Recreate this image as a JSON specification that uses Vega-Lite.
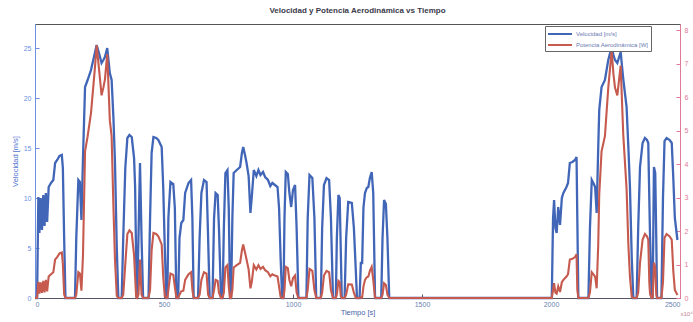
{
  "$schema": "https://vega.github.io/schema/vega-lite/v6.json",
  "width": 645,
  "height": 274,
  "autosize": {"type": "none"},
  "padding": {"left": 35, "top": 24, "right": 13, "bottom": 24},
  "background": "white",
  "title": {"text": "Velocidad y Potencia Aerodinámica vs Tiempo", "fontSize": 8, "fontWeight": "bold", "color": "#3a3a4a", "font": "Liberation Sans", "offset": 9, "anchor": "middle"},
  "data": {"values": [
    {"t":0,"v":0,"p":0},{"t":8,"v":0,"p":0},{"t":13,"v":10.1,"p":0.48},{"t":17,"v":6.5,"p":0.13},{"t":22,"v":10.0,"p":0.47},{"t":27,"v":6.8,"p":0.15},{"t":32,"v":10.3,"p":0.51},{"t":37,"v":7.2,"p":0.17},{"t":42,"v":10.5,"p":0.54},{"t":47,"v":7.6,"p":0.2},{"t":53,"v":11.1,"p":0.64},{"t":62,"v":11.5,"p":0.71},{"t":71,"v":11.8,"p":0.77},{"t":78,"v":13.5,"p":1.15},{"t":86,"v":13.8,"p":1.22},{"t":95,"v":14.2,"p":1.33},{"t":104,"v":14.3,"p":1.36},{"t":108,"v":13.0,"p":1.02},{"t":113,"v":6,"p":0.1},{"t":118,"v":0,"p":0},
    {"t":155,"v":0,"p":0},{"t":160,"v":6,"p":0.1},{"t":168,"v":11.8,"p":0.77},{"t":174,"v":11.6,"p":0.73},{"t":180,"v":7.8,"p":0.22},{"t":186,"v":14,"p":1.28},{"t":194,"v":21.1,"p":4.38},{"t":204,"v":21.8,"p":4.83},{"t":217,"v":22.8,"p":5.52},{"t":232,"v":24.5,"p":6.85},{"t":239,"v":25.3,"p":7.55},{"t":250,"v":24.3,"p":6.69},{"t":258,"v":23.5,"p":6.05},{"t":265,"v":23.8,"p":6.28},{"t":271,"v":24.1,"p":6.52},{"t":280,"v":25.0,"p":7.28},{"t":290,"v":22.5,"p":5.31},{"t":297,"v":21.8,"p":4.83},{"t":304,"v":18,"p":2.72},{"t":310,"v":13.5,"p":1.15},{"t":317,"v":5,"p":0.06},{"t":323,"v":0,"p":0},
    {"t":336,"v":0,"p":0},{"t":342,"v":6,"p":0.1},{"t":350,"v":13,"p":1.02},{"t":358,"v":16.0,"p":1.91},{"t":366,"v":16.3,"p":2.02},{"t":375,"v":16.1,"p":1.94},{"t":384,"v":14,"p":1.28},{"t":388,"v":11.1,"p":0.64},{"t":392,"v":4,"p":0.03},{"t":396,"v":0,"p":0},{"t":401,"v":6,"p":0.1},{"t":407,"v":13.5,"p":1.15},{"t":413,"v":6,"p":0.1},{"t":419,"v":0,"p":0},
    {"t":440,"v":0,"p":0},{"t":446,"v":8,"p":0.24},{"t":452,"v":14.5,"p":1.42},{"t":459,"v":16.1,"p":1.94},{"t":470,"v":16.0,"p":1.91},{"t":478,"v":15.8,"p":1.84},{"t":491,"v":15.1,"p":1.6},{"t":497,"v":11.1,"p":0.64},{"t":503,"v":5,"p":0.06},{"t":509,"v":0,"p":0},
    {"t":513,"v":0,"p":0},{"t":517,"v":8,"p":0.24},{"t":525,"v":11.6,"p":0.73},{"t":536,"v":11.4,"p":0.69},{"t":542,"v":9,"p":0.34},{"t":548,"v":0,"p":0},
    {"t":555,"v":0,"p":0},{"t":560,"v":6,"p":0.1},{"t":567,"v":7.5,"p":0.2},{"t":575,"v":7.8,"p":0.22},{"t":582,"v":10.5,"p":0.54},{"t":595,"v":11.5,"p":0.71},{"t":605,"v":11.8,"p":0.77},{"t":610,"v":8,"p":0.24},{"t":615,"v":0,"p":0},
    {"t":632,"v":0,"p":0},{"t":638,"v":6,"p":0.1},{"t":645,"v":10.5,"p":0.54},{"t":655,"v":11.8,"p":0.77},{"t":665,"v":11.6,"p":0.73},{"t":671,"v":6,"p":0.1},{"t":677,"v":0,"p":0},
    {"t":688,"v":0,"p":0},{"t":694,"v":8,"p":0.24},{"t":700,"v":10.5,"p":0.54},{"t":708,"v":10.3,"p":0.51},{"t":713,"v":7,"p":0.16},{"t":721,"v":0,"p":0},
    {"t":727,"v":0,"p":0},{"t":732,"v":7,"p":0.16},{"t":738,"v":12.5,"p":0.91},{"t":746,"v":12.8,"p":0.98},{"t":751,"v":9,"p":0.34},{"t":756,"v":0,"p":0},
    {"t":760,"v":0,"p":0},{"t":765,"v":8,"p":0.24},{"t":770,"v":12.5,"p":0.91},{"t":782,"v":12.8,"p":0.98},{"t":795,"v":13.1,"p":1.05},{"t":802,"v":14.5,"p":1.42},{"t":807,"v":15.1,"p":1.6},{"t":814,"v":14.3,"p":1.36},{"t":820,"v":13.5,"p":1.15},{"t":828,"v":12.2,"p":0.85},{"t":835,"v":8.5,"p":0.29},{"t":840,"v":10,"p":0.47},{"t":848,"v":12.8,"p":0.98},{"t":858,"v":12.2,"p":0.85},{"t":866,"v":12.8,"p":0.98},{"t":874,"v":12.3,"p":0.87},{"t":884,"v":12.6,"p":0.93},{"t":892,"v":12.1,"p":0.83},{"t":903,"v":11.8,"p":0.77},{"t":912,"v":11.2,"p":0.65},{"t":920,"v":11.5,"p":0.71},{"t":930,"v":11.3,"p":0.67},{"t":940,"v":11.1,"p":0.64},{"t":946,"v":9,"p":0.34},{"t":952,"v":4,"p":0.03},{"t":958,"v":0,"p":0},
    {"t":963,"v":0,"p":0},{"t":967,"v":8,"p":0.24},{"t":972,"v":12.6,"p":0.93},{"t":980,"v":12.4,"p":0.89},{"t":986,"v":10.5,"p":0.54},{"t":993,"v":9.1,"p":0.35},{"t":1000,"v":10.8,"p":0.59},{"t":1008,"v":11.3,"p":0.67},{"t":1014,"v":7,"p":0.16},{"t":1021,"v":0,"p":0},
    {"t":1052,"v":0,"p":0},{"t":1057,"v":8,"p":0.24},{"t":1064,"v":12.3,"p":0.87},{"t":1075,"v":12.0,"p":0.81},{"t":1083,"v":8,"p":0.24},{"t":1090,"v":0,"p":0},
    {"t":1108,"v":0,"p":0},{"t":1113,"v":7,"p":0.16},{"t":1120,"v":11.3,"p":0.67},{"t":1130,"v":12.0,"p":0.81},{"t":1140,"v":11.8,"p":0.77},{"t":1147,"v":8,"p":0.24},{"t":1155,"v":0,"p":0},
    {"t":1166,"v":0,"p":0},{"t":1170,"v":6,"p":0.1},{"t":1176,"v":10.3,"p":0.51},{"t":1181,"v":10.0,"p":0.47},{"t":1185,"v":5,"p":0.06},{"t":1189,"v":0,"p":0},
    {"t":1200,"v":0,"p":0},{"t":1206,"v":6,"p":0.1},{"t":1214,"v":9.6,"p":0.41},{"t":1228,"v":9.5,"p":0.4},{"t":1236,"v":7,"p":0.16},{"t":1243,"v":3,"p":0.01},{"t":1248,"v":0,"p":0},
    {"t":1258,"v":0,"p":0},{"t":1263,"v":3.5,"p":0.02},{"t":1268,"v":3.5,"p":0.02},{"t":1273,"v":9,"p":0.34},{"t":1279,"v":10.5,"p":0.54},{"t":1286,"v":11.0,"p":0.62},{"t":1292,"v":11.1,"p":0.64},{"t":1298,"v":12,"p":0.81},{"t":1305,"v":12.6,"p":0.93},{"t":1311,"v":10.5,"p":0.54},{"t":1318,"v":0,"p":0},
    {"t":1342,"v":0,"p":0},{"t":1347,"v":6,"p":0.1},{"t":1353,"v":9.8,"p":0.44},{"t":1360,"v":9.4,"p":0.39},{"t":1366,"v":6,"p":0.1},{"t":1373,"v":0,"p":0},
    {"t":2003,"v":0,"p":0},{"t":2008,"v":8,"p":0.24},{"t":2012,"v":9.8,"p":0.44},{"t":2017,"v":7,"p":0.16},{"t":2022,"v":6.5,"p":0.13},{"t":2028,"v":9.1,"p":0.35},{"t":2035,"v":7.3,"p":0.18},{"t":2042,"v":10,"p":0.47},{"t":2048,"v":10.5,"p":0.54},{"t":2060,"v":11.1,"p":0.64},{"t":2066,"v":11.5,"p":0.71},{"t":2073,"v":13.5,"p":1.15},{"t":2083,"v":13.6,"p":1.17},{"t":2093,"v":13.8,"p":1.22},{"t":2099,"v":14.1,"p":1.31},{"t":2102,"v":8,"p":0.24},{"t":2106,"v":0,"p":0},
    {"t":2145,"v":0,"p":0},{"t":2151,"v":7,"p":0.16},{"t":2158,"v":11.8,"p":0.77},{"t":2166,"v":11.4,"p":0.69},{"t":2171,"v":11.1,"p":0.64},{"t":2177,"v":8.5,"p":0.29},{"t":2183,"v":15,"p":1.57},{"t":2187,"v":18.8,"p":3.1},{"t":2196,"v":21.1,"p":4.38},{"t":2209,"v":21.8,"p":4.83},{"t":2222,"v":23.8,"p":6.28},{"t":2235,"v":25.1,"p":7.37},{"t":2242,"v":24.3,"p":6.69},{"t":2248,"v":23.8,"p":6.28},{"t":2257,"v":23.5,"p":6.05},{"t":2270,"v":24.6,"p":6.94},{"t":2280,"v":21.9,"p":4.89},{"t":2293,"v":19.1,"p":3.25},{"t":2300,"v":15,"p":1.57},{"t":2306,"v":11.1,"p":0.64},{"t":2313,"v":4,"p":0.03},{"t":2319,"v":0,"p":0},
    {"t":2332,"v":0,"p":0},{"t":2338,"v":7,"p":0.16},{"t":2345,"v":13.1,"p":1.05},{"t":2355,"v":15.5,"p":1.74},{"t":2364,"v":16.0,"p":1.91},{"t":2372,"v":15.8,"p":1.84},{"t":2377,"v":15.5,"p":1.74},{"t":2381,"v":10,"p":0.47},{"t":2384,"v":6.1,"p":0.11},{"t":2390,"v":0,"p":0},
    {"t":2394,"v":0,"p":0},{"t":2399,"v":13.1,"p":1.05},{"t":2404,"v":12.5,"p":0.91},{"t":2408,"v":6,"p":0.1},{"t":2411,"v":0,"p":0},
    {"t":2428,"v":0,"p":0},{"t":2434,"v":10,"p":0.47},{"t":2440,"v":15.7,"p":1.8},{"t":2448,"v":16.0,"p":1.91},{"t":2460,"v":15.8,"p":1.84},{"t":2468,"v":15.5,"p":1.74},{"t":2474,"v":12,"p":0.81},{"t":2480,"v":8,"p":0.24},{"t":2490,"v":5.8,"p":0.09}
  ]},
  "encoding": {
    "x": {"field": "t", "type": "quantitative", "scale": {"domain": [0, 2500], "nice": false},
      "axis": {"title": "Tiempo [s]", "values": [0, 500, 1000, 1500, 2000, 2500], "format": "d", "grid": false, "domainColor": "#556", "tickColor": "#556", "tickSize": -4, "labelPadding": 6, "labelColor": "#6a7fb0", "titleColor": "#4a64a8", "titlePadding": 1}}
  },
  "layer": [
    {"mark": {"type": "line", "strokeWidth": 2.3, "interpolate": "linear"},
     "encoding": {
       "y": {"field": "v", "type": "quantitative", "scale": {"domain": [0, 27.4], "nice": false},
         "axis": {"title": "Velocidad [m/s]", "values": [0, 5, 10, 15, 20, 25], "grid": false, "domainColor": "#6d8fe0", "tickColor": "#6d8fe0", "tickSize": -4, "labelPadding": 8, "labelColor": "#6d8fe0", "titleColor": "#4f72d0", "titlePadding": 4}},
       "color": {"datum": "Velocidad [m/s]", "type": "nominal",
         "scale": {"domain": ["Velocidad [m/s]", "Potencia Aerodinámica [W]"], "range": ["#4166b8", "#c65a4e"]},
         "legend": {"title": null, "orient": "none", "legendX": 510, "legendY": 2, "direction": "vertical", "symbolType": "M-1,0H3.8", "symbolSize": 100, "symbolStrokeWidth": 2, "labelFontSize": 6, "labelColor": "#6a7ab0", "strokeColor": "#666", "fillColor": "white", "padding": 2, "rowPadding": 1, "labelOffset": 17, "labelLimit": 200}}
     }},
    {"mark": {"type": "line", "strokeWidth": 2.1, "interpolate": "linear"},
     "encoding": {
       "y": {"field": "p", "type": "quantitative", "scale": {"domain": [0, 8.18], "nice": false},
         "axis": {"orient": "right", "title": "x10⁴", "titleAngle": 0, "titleX": 0, "titleY": 292, "titleAlign": "left", "titleFontSize": 6, "titleFontWeight": "normal", "titleColor": "#c08090", "values": [0, 1, 2, 3, 4, 5, 6, 7, 8], "grid": false, "domainColor": "#e07a98", "tickColor": "#e07a98", "tickSize": -4, "labelPadding": 8, "labelColor": "#e07a98"}},
       "color": {"datum": "Potencia Aerodinámica [W]", "type": "nominal"}
     }}
  ],
  "resolve": {"scale": {"y": "independent"}},
  "config": {
    "font": "Liberation Sans",
    "view": {"stroke": "#555", "strokeWidth": 1},
    "axis": {"labelFontSize": 7, "titleFontSize": 7.5, "titleFontWeight": "normal", "domainWidth": 1, "labelFont": "Liberation Sans", "titleFont": "Liberation Sans"}
  }
}
